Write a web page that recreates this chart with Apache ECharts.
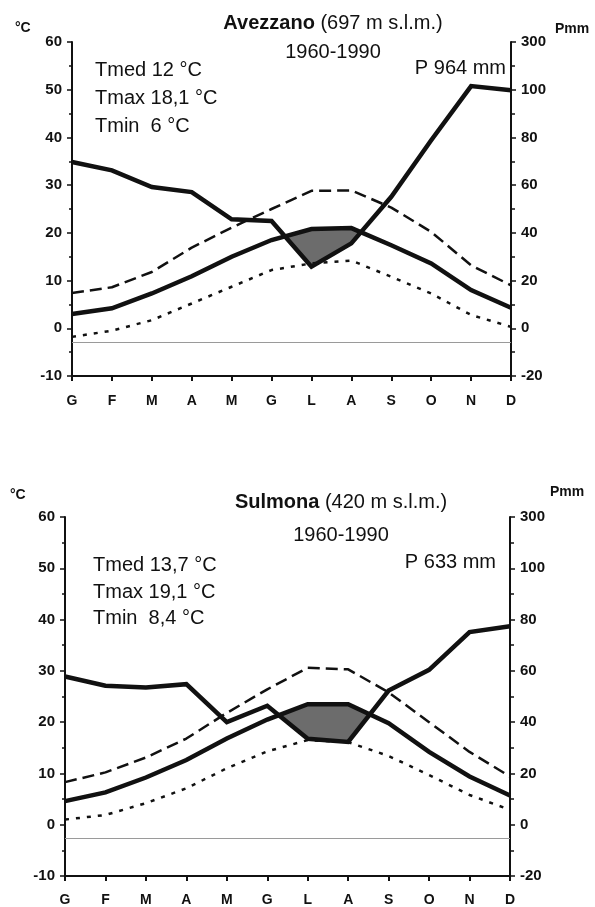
<!DOCTYPE html>
<html><head><meta charset="utf-8">
<script src="https://cdn.jsdelivr.net/npm/echarts@6/dist/echarts.min.js"></script>
<style>html,body{margin:0;padding:0;background:#fff}#c{width:595px;height:907px}</style>
</head><body><div id="c"></div>
<script>
// ---- data ----
const months = ['G','F','M','A','M','G','L','A','S','O','N','D'];

const avezTmax = [7.4, 8.6, 11.8, 16.9, 21.1, 25.0, 28.8, 28.9, 25.3, 20.2, 13.2, 9.0];
const avezTmed = [3.0, 4.2, 7.3, 10.9, 15.0, 18.5, 20.8, 21.0, 17.4, 13.6, 8.0, 4.3];
const avezTmin = [-1.8, -0.5, 1.7, 5.2, 8.7, 12.2, 13.6, 14.2, 10.8, 7.3, 2.8, 0.3];
const avezPrec = [69.7, 66.2, 59.2, 57.1, 45.7, 45.0, 25.8, 35.6, 55.1, 78.8, 101.5, 99.8];
const avezBase = -3.0;

const sulmTmax = [8.3, 10.2, 13.1, 16.8, 21.8, 26.4, 30.6, 30.3, 25.8, 20.0, 14.2, 9.4];
const sulmTmed = [4.6, 6.3, 9.2, 12.6, 16.8, 20.5, 23.5, 23.5, 19.8, 14.2, 9.4, 5.7];
const sulmTmin = [1.0, 1.9, 4.2, 7.1, 11.0, 14.3, 16.5, 16.1, 13.4, 9.7, 5.8, 2.9];
const sulmPrec = [57.8, 54.2, 53.5, 54.8, 40.0, 46.4, 33.5, 32.3, 52.3, 60.4, 75.1, 77.4];
const sulmBase = -2.6;

const precTickValues = [-20, 0, 20, 40, 60, 80, 100, 120];
const precTickLabels = ['-20', '0', '20', '40', '60', '80', '100', '300'];

const avezTexts = {title: 'Avezzano', alt: ' (697 m s.l.m.)', period: '1960-1990', prec: 'P 964 mm',
  stats: ['Tmed 12 °C', 'Tmax 18,1 °C', 'Tmin  6 °C']};
const sulmTexts = {title: 'Sulmona', alt: ' (420 m s.l.m.)', period: '1960-1990', prec: 'P 633 mm',
  stats: ['Tmed 13,7 °C', 'Tmax 19,1 °C', 'Tmin  8,4 °C']};

// ---- helpers ----
const FONT = '"Liberation Sans", Arial, sans-serif';
const INK = '#111';

function toPairs(arr){ return arr.map((v,i)=>[i,v]); }

function aridPoints(temp, prec){
  const d = temp.map((t,i)=>t - prec[i]/2);
  const upper = [], lower = [];
  for (let i=0;i<d.length;i++){
    if (d[i] > 0){
      if (i>0 && d[i-1] <= 0){
        const f = d[i-1]/(d[i-1]-d[i]);
        const p = [i-1+f, temp[i-1]+(temp[i]-temp[i-1])*f];
        upper.push(p); lower.push(p);
      }
      upper.push([i, temp[i]]); lower.push([i, prec[i]/2]);
      if (i<d.length-1 && d[i+1] <= 0){
        const f = d[i]/(d[i]-d[i+1]);
        const p = [i+f, temp[i]+(temp[i+1]-temp[i])*f];
        upper.push(p); lower.push(p);
      }
    }
  }
  return upper.concat(lower.reverse());
}

function axisSet(gi, labelMargin){
  const x = {
    gridIndex: gi, type: 'value', min: 0, max: 11, interval: 1,
    axisLine: {show: true, onZero: false, lineStyle: {color: INK, width: 2}},
    axisTick: {show: true, length: 5, lineStyle: {color: INK, width: 2}},
    splitLine: {show: false},
    axisLabel: {formatter: v => months[v] || '', color: INK, fontFamily: FONT, fontWeight: 'bold', fontSize: 14,
      margin: labelMargin, showMinLabel: true, showMaxLabel: true}
  };
  const yl = {
    gridIndex: gi, type: 'value', min: -10, max: 60, interval: 10, position: 'left',
    axisLine: {show: true, lineStyle: {color: INK, width: 2}},
    axisTick: {show: true, length: 5, lineStyle: {color: INK, width: 1.5}},
    minorTick: {show: true, splitNumber: 2, length: 3, lineStyle: {color: INK, width: 1.5}},
    splitLine: {show: false},
    axisLabel: {color: INK, fontFamily: FONT, fontWeight: 'bold', fontSize: 15, margin: 10,
      showMinLabel: true, showMaxLabel: true}
  };
  const yr = {
    gridIndex: gi, type: 'value', min: -20, max: 120, interval: 20, position: 'right',
    axisLine: {show: true, lineStyle: {color: INK, width: 2}},
    axisTick: {show: true, length: 5, lineStyle: {color: INK, width: 1.5}},
    minorTick: {show: true, splitNumber: 2, length: 4, lineStyle: {color: INK, width: 1.5}},
    splitLine: {show: false},
    axisLabel: {color: INK, fontFamily: FONT, fontWeight: 'bold', fontSize: 15, margin: 10,
      showMinLabel: true, showMaxLabel: true,
      formatter: v => { const k = precTickValues.indexOf(v); return k >= 0 ? precTickLabels[k] : ''; }}
  };
  return {x, yl, yr};
}

function seriesSet(gi, tmax, tmed, tmin, prec, base){
  const xi = gi, yi = gi*2, yri = gi*2+1;
  const pts = aridPoints(tmed, prec);
  return [
    {type: 'custom', xAxisIndex: xi, yAxisIndex: yi, z: 1, silent: true,
      data: [[0, 0]],
      renderItem: (params, api) => ({
        type: 'polygon',
        shape: {points: pts.map(p => api.coord(p))},
        style: {fill: '#6c6c6c', stroke: INK, lineWidth: 2}
      })},
    {type: 'line', xAxisIndex: xi, yAxisIndex: yi, data: toPairs(tmax), showSymbol: false, symbol: 'none', z: 3,
      lineStyle: {color: INK, width: 2.5, type: [12, 6], cap: 'butt'},
      markLine: {silent: true, symbol: 'none', label: {show: false},
        lineStyle: {color: '#9a9a9a', width: 1, type: 'solid'}, data: [{yAxis: base}]}},
    {type: 'line', xAxisIndex: xi, yAxisIndex: yi, data: toPairs(tmin), showSymbol: false, symbol: 'none', z: 3,
      lineStyle: {color: INK, width: 2.5, type: [4, 7], cap: 'butt'}},
    {type: 'line', xAxisIndex: xi, yAxisIndex: yi, data: toPairs(tmed), showSymbol: false, symbol: 'none', z: 4,
      lineStyle: {color: INK, width: 4.5, join: 'miter'}},
    {type: 'line', xAxisIndex: xi, yAxisIndex: yri, data: toPairs(prec), showSymbol: false, symbol: 'none', z: 4,
      lineStyle: {color: INK, width: 4.5, join: 'miter'}}
  ];
}

function texts(t, pos){
  const base = {fontFamily: FONT, fill: INK};
  const els = [
    {type: 'text', left: pos.degX, top: pos.degY, style: Object.assign({}, base, {text: '°C', fontSize: 14, fontWeight: 'bold'})},
    {type: 'text', left: pos.pmmX, top: pos.pmmY, style: Object.assign({}, base, {text: 'Pmm', fontSize: 14, fontWeight: 'bold'})},
    {type: 'text', x: pos.cx, y: pos.titleY, style: Object.assign({}, base, {
      text: '{b|' + t.title + '}' + t.alt, fontSize: 20, align: 'center', verticalAlign: 'middle',
      rich: {b: {fontWeight: 'bold', fontSize: 20, fontFamily: FONT, fill: INK}}})},
    {type: 'text', x: pos.cx, y: pos.periodY, style: Object.assign({}, base, {text: t.period, fontSize: 20, align: 'center', verticalAlign: 'middle'})},
    {type: 'text', x: pos.precX, y: pos.precY, style: Object.assign({}, base, {text: t.prec, fontSize: 20, align: 'right', verticalAlign: 'middle'})}
  ];
  t.stats.forEach((s, k) => {
    els.push({type: 'text', x: pos.statX, y: pos.statY[k], style: Object.assign({}, base, {text: s, fontSize: 20, align: 'left', verticalAlign: 'middle'})});
  });
  return els;
}

const a0 = axisSet(0, 18), a1 = axisSet(1, 17);

const option = {
  animation: false,
  backgroundColor: '#fff',
  grid: [
    {left: 72, top: 42, width: 439, height: 334},
    {left: 65, top: 517, width: 445, height: 361}
  ],
  xAxis: [a0.x, a1.x],
  yAxis: [a0.yl, a0.yr, a1.yl, a1.yr],
  series: [].concat(
    seriesSet(0, avezTmax, avezTmed, avezTmin, avezPrec, avezBase),
    seriesSet(1, sulmTmax, sulmTmed, sulmTmin, sulmPrec, sulmBase)
  ),
  graphic: {elements: [].concat(
    texts(avezTexts, {degX: 15, degY: 21, pmmX: 555, pmmY: 22, cx: 333, titleY: 23, periodY: 52,
      precX: 506, precY: 68, statX: 95, statY: [70, 98, 126]}),
    texts(sulmTexts, {degX: 10, degY: 488, pmmX: 550, pmmY: 485, cx: 341, titleY: 502, periodY: 535,
      precX: 496, precY: 562, statX: 93, statY: [565, 592, 618]})
  )}
};

const chart = echarts.init(document.getElementById('c'), null, {renderer: 'canvas'});
chart.setOption(option);
</script>
</body></html>
